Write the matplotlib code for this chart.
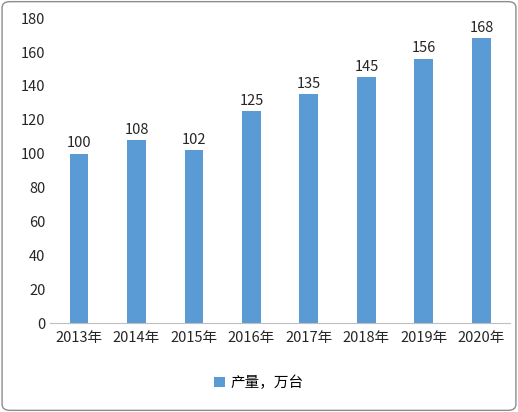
import matplotlib
matplotlib.use("Agg")
import matplotlib.pyplot as plt
from matplotlib.patches import FancyBboxPatch

plt.rcParams['font.family'] = ['Noto Sans CJK SC', 'DejaVu Sans']

years = ["2013年", "2014年", "2015年", "2016年", "2017年", "2018年", "2019年", "2020年"]
values = [100, 108, 102, 125, 135, 145, 156, 168]
series_name = "产量，万台"

fig = plt.figure(figsize=(5.18, 4.12), dpi=100)
fig.patches.append(FancyBboxPatch((0.004, 0.004), 0.992, 0.992, boxstyle="round,pad=0,rounding_size=0.015",
                                  transform=fig.transFigure, fill=False, edgecolor="#8c8c8c", linewidth=1))
ax = fig.add_axes([0.097, 0.216, 0.888, 0.74])
x = range(len(years))
bars = ax.bar(x, values, width=0.33, color="#5B9BD5", label=series_name)
for xi, v in zip(x, values):
    ax.text(xi, v + 2, str(v), ha="center", va="bottom", fontsize=10.5, color="#262626")
ax.set_xlim(-0.5, len(years) - 0.5)
ax.set_ylim(0, 180)
ax.set_yticks(range(0, 181, 20))
ax.set_xticks(list(x))
ax.set_xticklabels(years)
for s in ["top", "right", "left"]:
    ax.spines[s].set_visible(False)
ax.spines["bottom"].set_color("#bfbfbf")
ax.tick_params(axis="both", length=0, labelsize=10.5, colors="#262626")
ax.tick_params(axis="x", pad=6)
fig.legend(handles=[bars], labels=[series_name], loc="center", bbox_to_anchor=(0.5, 0.07),
           frameon=False, fontsize=10.5, handlelength=0.7, handleheight=0.7, handletextpad=0.4)
fig.savefig("out.png", dpi=100)
